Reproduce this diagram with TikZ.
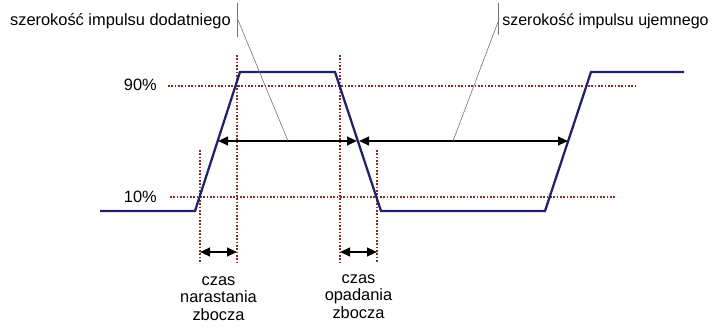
\documentclass[tikz,border=0pt]{standalone}
\usepackage{fontspec}
\setmainfont{Liberation Sans}
\definecolor{pulsenavy}{RGB}{32, 32, 108}
\definecolor{guidered}{RGB}{135, 45, 30}
\usetikzlibrary{arrows.meta, positioning}
\tikzset{
  % Waveform trace.
  signal/.style={draw=pulsenavy, line width=1.7pt, line join=miter},
  % Dotted reference lines (levels and edge markers).
  guide/.style={draw=guidered, line width=1pt, dash pattern=on 1.2pt off 1.3pt},
  % Measured widths and times.
  widtharrow/.style={
    {Triangle[length=7.5pt, width=6.5pt]}-{Triangle[length=7.5pt, width=6.5pt]},
    line width=1.5pt,
    draw=black,
  },
  % Thin callout leaders.
  leader/.style={draw=black!55, line width=0.45pt},
  % Text.
  level-label/.style={anchor=east, inner sep=0pt},
  caption/.style={anchor=north, inner sep=0pt, align=center},
  callout/.style={inner sep=0pt},
}

\begin{document}
\begin{tikzpicture}[x=0.75pt, y=-0.75pt, font=\fontsize{12.3}{13.3}\selectfont]
  \useasboundingbox (0,0) rectangle (716,328);

  % Level guides.
  \node[level-label] (p90) at (157,85) {90\%};
  \node[level-label] (p10) at (157,197) {10\%};
  \draw[guide] (168,86) -- (637,86);
  \draw[guide] (170,197) -- (615,197);

  % Edge markers.
  \foreach \x/\y in {200/150, 237/55, 340/55, 377/150}
    \draw[guide] (\x,\y) -- (\x,263);

  % Pulse train.
  \draw[signal] (100,211) -- (195,211) -- (240,72) -- (335,72)
    -- (381,211) -- (545,211) -- (591,72) -- (684,72);

  % Pulse widths.
  \coordinate (rise1) at (218,141);
  \coordinate (fall1) at (357,141);
  \coordinate (fall1b) at (359,141);
  \coordinate (rise2) at (568,141);
  \draw[widtharrow] (rise1) -- (fall1);
  \draw[widtharrow] (fall1b) -- (rise2);

  % Edge times.
  \coordinate (tr-a) at (200,252);
  \coordinate (tr-b) at (237,252);
  \coordinate (tf-a) at (340,252);
  \coordinate (tf-b) at (377,252);
  \draw[widtharrow] (tr-a) -- (tr-b);
  \draw[widtharrow] (tf-a) -- (tf-b);

  \node[caption] (trise) at (218.5,276) {czas\\narastania\\zbocza};
  \node[caption] (tfall) at (358.5,274) {czas\\opadania\\zbocza};

  % Callouts.
  \node[callout, anchor=base east] (poswidth) at (231,26) {szerokość impulsu dodatniego};
  \coordinate (pos-top) at (237,3);
  \coordinate (pos-bot) at (237,37);
  \coordinate (pos-knee) at (238,20);
  \coordinate (pos-end) at (288,141);
  \draw[leader] (pos-top) -- (pos-bot);
  \draw[leader] (pos-knee) -- (pos-end);

  \node[callout, anchor=base west, font=\fontsize{12}{13.3}\selectfont]
    (negwidth) at (502,26) {szerokość impulsu ujemnego};
  \coordinate (neg-top) at (498,3);
  \coordinate (neg-bot) at (498,35);
  \coordinate (neg-knee) at (498,22);
  \coordinate (neg-end) at (453,141);
  \draw[leader] (neg-top) -- (neg-bot);
  \draw[leader] (neg-knee) -- (neg-end);
\end{tikzpicture}
\end{document}
